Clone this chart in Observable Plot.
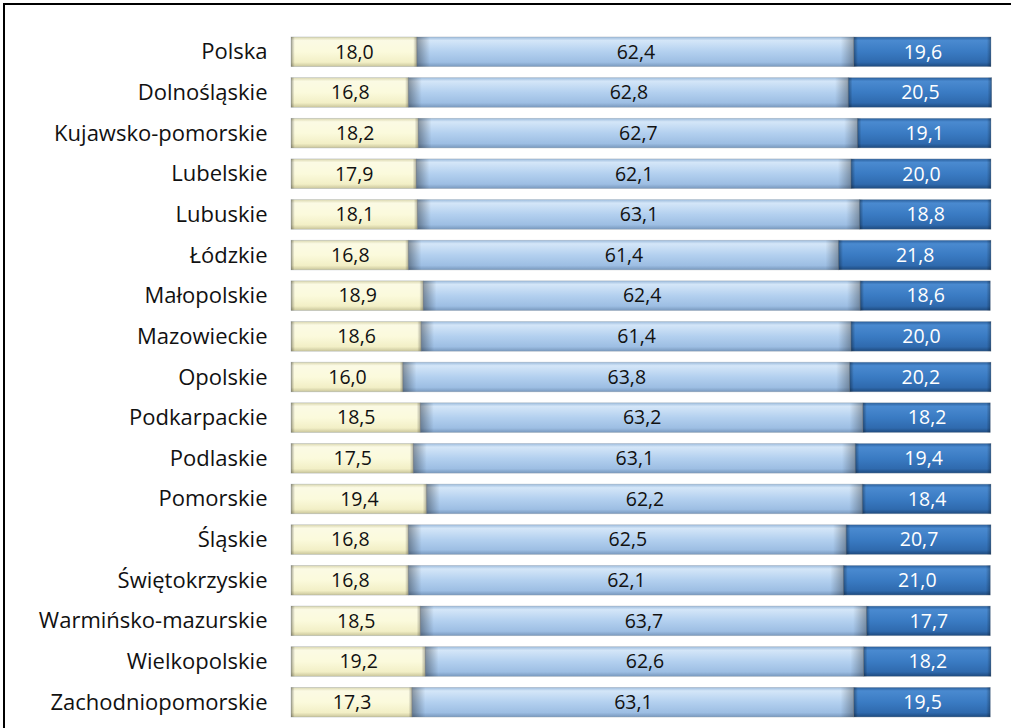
<!DOCTYPE html>
<html>
<head>
<meta charset="utf-8">
<script src="https://cdn.jsdelivr.net/npm/d3@7"></script>
<script src="https://cdn.jsdelivr.net/npm/@observablehq/plot@0.6"></script>
<style>
  html, body { margin: 0; padding: 0; background: #fff; }
  #wrap { position: relative; width: 1011px; height: 728px; overflow: hidden; }
  #frame { position: absolute; left: 3px; top: 3px; width: 1100px; height: 800px; border-top: 2px solid #000; border-left: 2px solid #000; }
  #chart { position: absolute; left: 0; top: 0; }
</style>
</head>
<body>
<div id="wrap"><div id="frame"></div><div id="chart"></div></div>
<script>
const regions = ["Polska","Dolnośląskie","Kujawsko-pomorskie","Lubelskie","Lubuskie","Łódzkie","Małopolskie","Mazowieckie","Opolskie","Podkarpackie","Podlaskie","Pomorskie","Śląskie","Świętokrzyskie","Warmińsko-mazurskie","Wielkopolskie","Zachodniopomorskie"];
const seriesNames = ["przedprodukcyjny","produkcyjny","poprodukcyjny"];
const preWorking  = [18.0,16.8,18.2,17.9,18.1,16.8,18.9,18.6,16.0,18.5,17.5,19.4,16.8,16.8,18.5,19.2,17.3];
const working     = [62.4,62.8,62.7,62.1,63.1,61.4,62.4,61.4,63.8,63.2,63.1,62.2,62.5,62.1,63.7,62.6,63.1];
const postWorking = [19.6,20.5,19.1,20.0,18.8,21.8,18.6,20.0,20.2,18.2,19.4,18.4,20.7,21.0,17.7,18.2,19.5];

const seriesValues = [preWorking, working, postWorking];
const data = [];
regions.forEach((r, i) => {
  seriesNames.forEach((s, k) => data.push({region: r, series: s, value: seriesValues[k][i]}));
});
const fills = {przedprodukcyjny: "url(#gY)", produkcyjny: "url(#gL)", poprodukcyjny: "url(#gD)"};
const textColors = {przedprodukcyjny: "#111", produkcyjny: "#111", poprodukcyjny: "#fff"};
const fmt = v => v.toFixed(1).replace(".", ",");

const chart = Plot.plot({
  width: 1011,
  height: 728,
  marginLeft: 291,
  marginRight: 20,
  marginTop: 26,
  marginBottom: 0,
  style: {fontFamily: "'Open Sans', sans-serif", background: "transparent"},
  x: {domain: [0, 100], axis: null},
  y: {domain: regions, padding: 0.27, round: false, label: null},
  marks: [
    Plot.barX(data, Plot.stackX({x: "value", y: "region", z: "series", order: null, fill: d => fills[d.series], stroke: "#9aa3ad", strokeWidth: 0.6, strokeOpacity: 0.6})),
    Plot.barX(data, Plot.stackX({x: "value", y: "region", z: "series", order: null, fill: "url(#gH)"})),
    Plot.text(data, Plot.stackX({x: "value", y: "region", z: "series", order: null, text: d => fmt(d.value), fill: d => textColors[d.series], fontSize: 19.5})),
    Plot.axisY({tickSize: 0, tickPadding: 24, fontSize: 22, fill: "#111", label: null})
  ]
});

// gradient defs for the bevelled look
const defs = d3.select(chart).insert("defs", ":first-child");
function vgrad(id, stops) {
  const g = defs.append("linearGradient").attr("id", id).attr("x1", 0).attr("y1", 0).attr("x2", 0).attr("y2", 1);
  stops.forEach(([o, c]) => g.append("stop").attr("offset", o).attr("stop-color", c));
}
vgrad("gY", [[0, "#d9d6ae"], [0.12, "#fbfae4"], [0.5, "#fbfadc"], [0.85, "#f2efc6"], [1, "#c9c59a"]]);
vgrad("gL", [[0, "#9cbbdc"], [0.12, "#d4e6f8"], [0.5, "#b3d0ef"], [0.85, "#9dbee3"], [1, "#7898bd"]]);
vgrad("gD", [[0, "#2a5f9c"], [0.12, "#4a8ad0"], [0.5, "#3a7bc3"], [0.85, "#2f6aae"], [1, "#1e4a7e"]]);
const h = defs.append("linearGradient").attr("id", "gH").attr("x1", 0).attr("y1", 0).attr("x2", 1).attr("y2", 0);
[[0, "rgba(0,0,0,0.35)"], [0.03, "rgba(0,0,0,0.0)"], [0.97, "rgba(0,0,0,0.0)"], [1, "rgba(0,0,0,0.3)"]]
  .forEach(([o, c]) => h.append("stop").attr("offset", o).attr("stop-color", c));

document.getElementById("chart").appendChild(chart);
</script>
</body>
</html>
